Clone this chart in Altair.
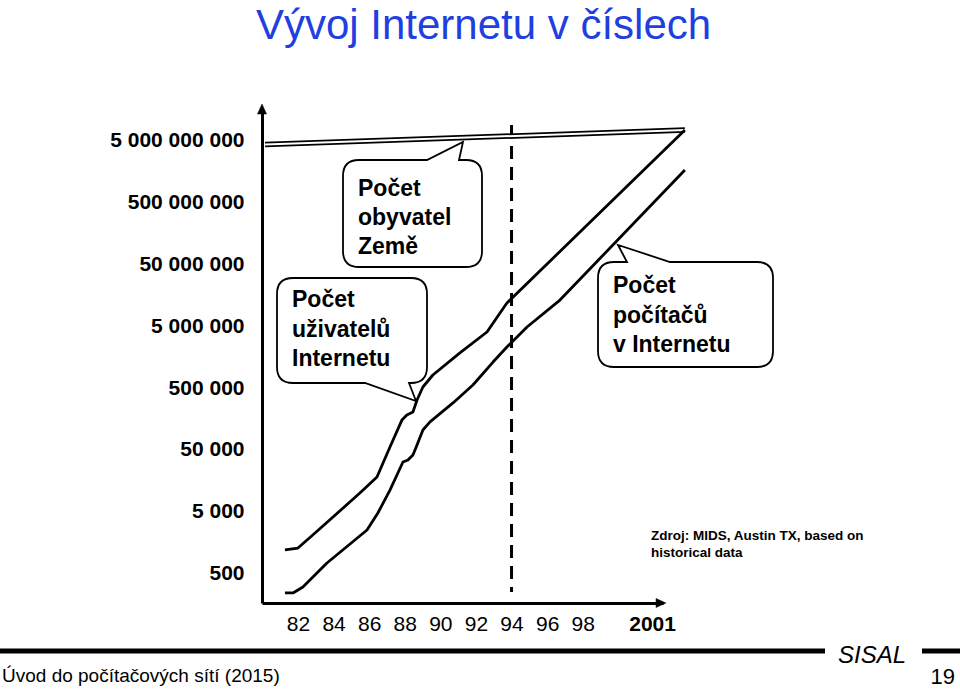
import json
import altair as alt
import pandas as pd

# ---------------- data ----------------
users_year = [1981.27, 1982.0, 1982.96, 1985.48, 1986.44, 1987.17, 1987.84, 1988.12,
              1988.46, 1988.69, 1989.02, 1989.58, 1991.10, 1992.62, 1993.74, 2003.74]
users = [1220, 1310, 2290, 10100, 18300, 55900, 152000, 184000,
         205000, 320000, 519000, 811000, 1840000, 4000000, 11750000, 7230000000]

hosts_year = [1981.27, 1981.72, 1982.28, 1983.63, 1985.88, 1986.49, 1987.17, 1987.90,
              1988.18, 1988.46, 1988.69, 1989.02, 1989.42, 1990.71, 1991.83, 1992.96,
              1993.74, 1994.87, 1996.72, 2003.74]
hosts = [247, 247, 308, 752, 2560, 4820, 11300, 32000,
         34500, 41500, 60300, 105000, 142000, 287000, 559000, 1310000,
         2290000, 4820000, 13100000, 1640000000]

pop_year = [1980.15, 2003.74]
population = [4230000000, 7230000000]

marker_year = [1994, 1994]
marker_value = [8700000000, 256]

y_ticks = [500, 5000, 50000, 500000, 5000000, 50000000, 500000000, 5000000000]
x_ticks = [1982, 1984, 1986, 1988, 1990, 1992, 1994, 1996, 1998, 2001]
x_labels = ["82", "84", "86", "88", "90", "92", "94", "96", "98", "2001"]

title_text = "Vývoj Internetu v číslech"
bubble_pop = ["Počet", "obyvatel", "Země"]
bubble_users = ["Počet", "uživatelů", "Internetu"]
bubble_hosts = ["Počet", "počítačů", "v Internetu"]
source_text = ["Zdroj: MIDS, Austin TX, based on", "historical data"]
footer_left = "Úvod do počítačových sítí (2015)"
footer_brand = "SISAL"
page_no = "19"

# ---------------- layout ----------------
OX, OY = 262, 112          # page position of the plot area's top-left corner
W, H = 401, 491            # plot area size
FONT = "Liberation Sans, Arial, Helvetica, sans-serif"


def px(x):
    return x - OX


def py(y):
    return y - OY


x_scale = alt.Scale(domain=[1979.98, 2002.51], nice=False, zero=False)
y_scale = alt.Scale(type="log", domain=[170.2, 1.416e10], nice=False)

y_axis = alt.Axis(
    values=y_ticks,
    labelExpr="replace(format(datum.value, ',d'), regexp(',', 'g'), ' ')",
    title=None, grid=False, ticks=False,
    domainWidth=3, domainColor="black",
    labelFont=FONT, labelFontSize=21, labelFontWeight="bold", labelColor="black",
    labelPadding=18, labelOverlap=False,
)
x_axis = alt.Axis(
    values=x_ticks,
    labelExpr=f"{json.dumps(x_labels)}[indexof({json.dumps(x_ticks)}, datum.value)]",
    title=None, grid=False, ticks=False,
    domainWidth=3, domainColor="black",
    labelFont=FONT, labelFontSize=21, labelColor="black",
    labelFontWeight={"condition": {"test": "datum.value == 2001", "value": "bold"}, "value": "normal"},
    labelOffset={"condition": {"test": "datum.value == 2001", "value": 16}, "value": 0},
    labelPadding=10, labelOverlap=False, labelFlush=False,
)

X = alt.X("year:Q", scale=x_scale, axis=x_axis)
Y = alt.Y("value:Q", scale=y_scale, axis=y_axis)

pop_df = pd.DataFrame({"year": pop_year, "value": population})
users_df = pd.DataFrame({"year": users_year, "value": users})
hosts_df = pd.DataFrame({"year": hosts_year, "value": hosts})
marker_df = pd.DataFrame({"year": marker_year, "value": marker_value})

pop_outer = alt.Chart(pop_df).mark_line(color="black", strokeWidth=5.5).encode(x=X, y=Y)
pop_inner = alt.Chart(pop_df).mark_line(color="white", strokeWidth=2).encode(x=X, y=Y)
users_line = alt.Chart(users_df).mark_line(color="black", strokeWidth=2.8, strokeJoin="round").encode(x=X, y=Y)
hosts_line = alt.Chart(hosts_df).mark_line(color="black", strokeWidth=2.8, strokeJoin="round").encode(x=X, y=Y)
marker = alt.Chart(marker_df).mark_line(color="black", strokeWidth=3, strokeDash=[13, 8]).encode(x=X, y=Y)

one = pd.DataFrame({"k": [0]})


def bubble_path(l, t, r, b, rad, side, a, c, tip):
    l, r, a, c = px(l), px(r), px(a), px(c)
    t, b = py(t), py(b)
    tx, ty = px(tip[0]), py(tip[1])
    p = [f"M{l + rad},{t}"]
    if side == "top":
        p += [f"L{a},{t}", f"L{tx},{ty}", f"L{c},{t}"]
    p += [f"L{r - rad},{t}", f"Q{r},{t} {r},{t + rad}", f"L{r},{b - rad}", f"Q{r},{b} {r - rad},{b}"]
    if side == "bottom":
        p += [f"L{c},{b}", f"L{tx},{ty}", f"L{a},{b}"]
    p += [f"L{l + rad},{b}", f"Q{l},{b} {l},{b - rad}", f"L{l},{t + rad}", f"Q{l},{t} {l + rad},{t}", "Z"]
    return " ".join(p)


def shape_layer(path, fill="white", stroke="black", sw=1.8):
    return alt.Chart(one).mark_point(
        shape=path, size=4, filled=True, fill=fill, stroke=stroke,
        strokeWidth=sw, opacity=1,
    ).encode(x=alt.value(0), y=alt.value(0))


def text_layer(text, x, y, size, weight="normal", align="left", color="black",
               style="normal", line_height=None):
    kw = dict(text=text, font=FONT, fontSize=size, fontWeight=weight, align=align,
              baseline="alphabetic", color=color, fontStyle=style)
    if line_height is not None:
        kw["lineHeight"] = line_height
    return alt.Chart(one).mark_text(**kw).encode(x=alt.value(px(x)), y=alt.value(py(y)))


def hrule(x1, x2, y, sw):
    return alt.Chart(one).mark_rule(color="black", strokeWidth=sw).encode(
        x=alt.value(px(x1)), x2=alt.value(px(x2)), y=alt.value(py(y)))


bub1 = shape_layer(bubble_path(343, 160, 482, 267, 16, "top", 427, 459, (463, 142)))
bub2 = shape_layer(bubble_path(277, 278, 427, 383, 16, "bottom", 365, 409, (416, 401)))
bub3 = shape_layer(bubble_path(598, 262, 773, 367, 16, "top", 627, 670, (618, 245)))

arrow_y = shape_layer(f"M{px(262)},{py(104)} L{px(257.5)},{py(114)} L{px(266.5)},{py(114)} Z",
                      fill="black", stroke="black", sw=0.5)
arrow_x = shape_layer(f"M{px(666)},{py(603)} L{px(656)},{py(598.5)} L{px(656)},{py(607.5)} Z",
                      fill="black", stroke="black", sw=0.5)

t_title = text_layer(title_text, 483.5, 39, 42, align="center", color="#1f3fe0")
t_b1 = text_layer(bubble_pop, 358, 196, 23, weight="bold", line_height=29)
t_b2 = text_layer(bubble_users, 292, 307, 23, weight="bold", line_height=29.5)
t_b3 = text_layer(bubble_hosts, 613, 293, 23, weight="bold", line_height=29.5)
t_src = text_layer(source_text, 651, 540, 13.5, weight="bold", line_height=16.5)
t_footer = text_layer(footer_left, 2, 682, 19)
t_brand = text_layer(footer_brand, 838, 663, 24, style="italic")
t_page = text_layer(page_no, 955, 684, 22, align="right")

rule_left = hrule(0, 825, 651, 5)
rule_right = hrule(922, 960, 651, 5)

chart = alt.layer(
    marker, pop_outer, pop_inner, users_line, hosts_line,
    bub1, bub2, bub3, arrow_y, arrow_x,
    t_title, t_b1, t_b2, t_b3, t_src, t_footer, t_brand, t_page,
    rule_left, rule_right,
).properties(
    width=W, height=H,
    padding={"left": OX, "top": OY, "right": 960 - OX - W, "bottom": 690 - OY - H},
    autosize=alt.AutoSizeParams(type="none"),
    background="white",
).configure_view(stroke=None)

chart.save("out.html", embed_options={"renderer": "svg", "actions": False})
